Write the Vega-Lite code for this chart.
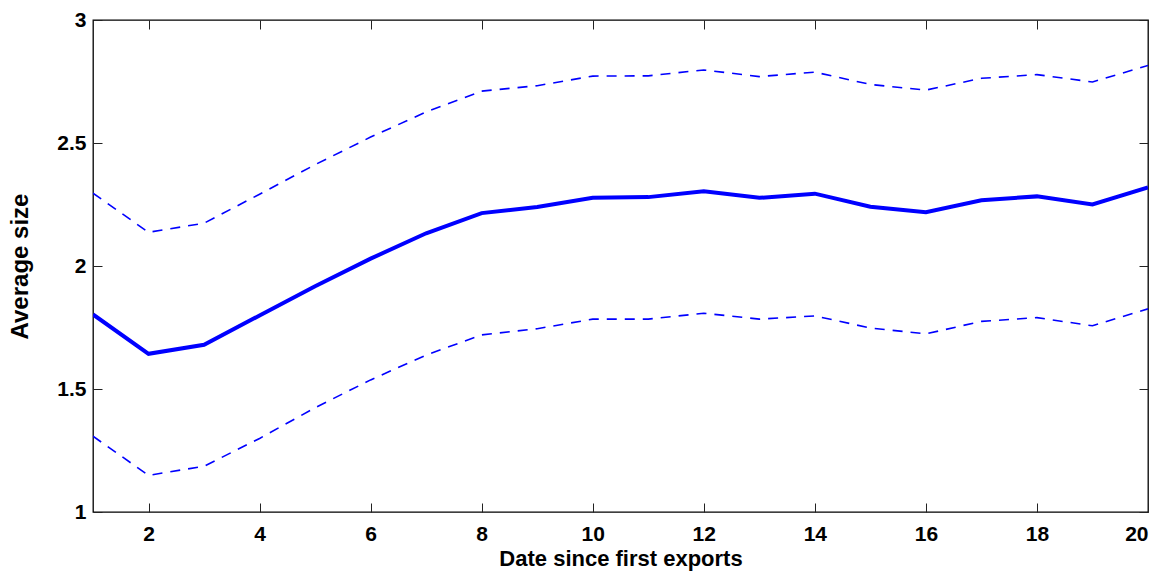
{
  "$schema": "https://vega.github.io/schema/vega-lite/v6.json",
  "width": 1055,
  "height": 492,
  "autosize": {"type": "none"},
  "padding": {"left": 93, "top": 20, "right": 25, "bottom": 64},
  "background": "white",
  "config": {
    "view": {"stroke": "black", "strokeWidth": 1.3},
    "axis": {
      "labelFont": "Liberation Sans",
      "titleFont": "Liberation Sans",
      "labelFontWeight": "bold",
      "titleFontWeight": "bold",
      "labelFontSize": 21,
      "titleFontSize": 22,
      "labelColor": "black",
      "titleColor": "black",
      "grid": false
    }
  },
  "data": {
    "values": [
      {"x": 1, "mean": 1.803, "upper": 2.296, "lower": 1.308},
      {"x": 2, "mean": 1.643, "upper": 2.137, "lower": 1.149},
      {"x": 3, "mean": 1.680, "upper": 2.174, "lower": 1.186},
      {"x": 4, "mean": 1.799, "upper": 2.292, "lower": 1.299},
      {"x": 5, "mean": 1.918, "upper": 2.412, "lower": 1.424},
      {"x": 6, "mean": 2.030, "upper": 2.524, "lower": 1.537},
      {"x": 7, "mean": 2.133, "upper": 2.626, "lower": 1.638},
      {"x": 8, "mean": 2.215, "upper": 2.711, "lower": 1.720},
      {"x": 9, "mean": 2.240, "upper": 2.733, "lower": 1.745},
      {"x": 10, "mean": 2.277, "upper": 2.772, "lower": 1.784},
      {"x": 11, "mean": 2.280, "upper": 2.773, "lower": 1.784},
      {"x": 12, "mean": 2.304, "upper": 2.797, "lower": 1.808},
      {"x": 13, "mean": 2.277, "upper": 2.770, "lower": 1.784},
      {"x": 14, "mean": 2.294, "upper": 2.788, "lower": 1.797},
      {"x": 15, "mean": 2.241, "upper": 2.738, "lower": 1.748},
      {"x": 16, "mean": 2.219, "upper": 2.715, "lower": 1.724},
      {"x": 17, "mean": 2.267, "upper": 2.763, "lower": 1.775},
      {"x": 18, "mean": 2.283, "upper": 2.778, "lower": 1.790},
      {"x": 19, "mean": 2.250, "upper": 2.748, "lower": 1.757},
      {"x": 20, "mean": 2.319, "upper": 2.815, "lower": 1.826}
    ]
  },
  "resolve": {
    "scale": {"x": "independent", "y": "independent"},
    "axis": {"x": "independent", "y": "independent"}
  },
  "layer": [
    {
      "mark": {"type": "line", "color": "#0000FF", "strokeWidth": 1.6, "strokeDash": [10, 8], "clip": true},
      "encoding": {
        "x": {"field": "x", "type": "quantitative", "scale": {"domain": [1, 20], "nice": false, "zero": false},
              "axis": {"orient": "bottom", "values": [2,4,6,8,10,12,14,16,18,20], "ticks": false, "domain": false, "labelPadding": 11, "title": "Date since first exports", "titlePadding": 4}},
        "y": {"field": "upper", "type": "quantitative", "scale": {"domain": [1, 3], "nice": false, "zero": false},
              "axis": {"orient": "left", "values": [1, 1.5, 2, 2.5, 3], "format": ".1~f", "ticks": false, "domain": false, "labelPadding": 7, "labelOverlap": false, "labelBound": false, "title": "Average size", "titleFontSize": 24, "titlePadding": 24}}
      }
    },
    {
      "mark": {"type": "line", "color": "#0000FF", "strokeWidth": 1.6, "strokeDash": [10, 8], "clip": true},
      "encoding": {
        "x": {"field": "x", "type": "quantitative", "scale": {"domain": [1, 20], "nice": false, "zero": false},
              "axis": {"orient": "top", "offset": -492, "values": [2,4,6,8,10,12,14,16,18,20], "ticks": true, "tickSize": 9, "tickColor": "#222222", "tickWidth": 1, "domain": false, "labels": false, "title": null}},
        "y": {"field": "lower", "type": "quantitative", "scale": {"domain": [1, 3], "nice": false, "zero": false},
              "axis": {"orient": "right", "offset": -1055, "values": [1, 1.5, 2, 2.5, 3], "ticks": true, "tickSize": 9, "tickColor": "#222222", "tickWidth": 1, "domain": false, "labels": false, "title": null}}
      }
    },
    {
      "mark": {"type": "line", "color": "#0000FF", "strokeWidth": 4, "clip": true},
      "encoding": {
        "x": {"field": "x", "type": "quantitative", "scale": {"domain": [1, 20], "nice": false, "zero": false},
              "axis": {"orient": "bottom", "offset": -492, "values": [2,4,6,8,10,12,14,16,18,20], "ticks": true, "tickSize": 9, "tickColor": "#222222", "tickWidth": 1, "domain": false, "labels": false, "title": null}},
        "y": {"field": "mean", "type": "quantitative", "scale": {"domain": [1, 3], "nice": false, "zero": false},
              "axis": {"orient": "left", "offset": -1055, "values": [1, 1.5, 2, 2.5, 3], "ticks": true, "tickSize": 9, "tickColor": "#222222", "tickWidth": 1, "domain": false, "labels": false, "title": null}}
      }
    }
  ]
}
